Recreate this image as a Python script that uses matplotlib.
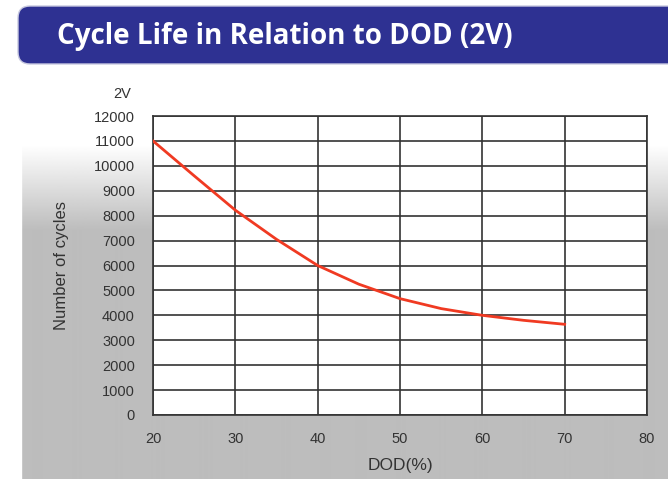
import numpy as np
import matplotlib.pyplot as plt
from matplotlib.patches import FancyBboxPatch, Rectangle

# data
dod = [20, 25, 30, 35, 40, 45, 50, 55, 60, 65, 70]
cycles = [11000, 9600, 8220, 7050, 6000, 5250, 4670, 4270, 4000, 3800, 3640]

x_ticks = [20, 30, 40, 50, 60, 70, 80]
y_ticks = list(range(0, 12001, 1000))

title = "Cycle Life in Relation to DOD (2V)"

W, H = 668, 479
fig = plt.figure(figsize=(W / 100, H / 100), dpi=100)
fig.patch.set_facecolor("white")

# background: banner + grey gradient panel, in pixel coords
bg = fig.add_axes([0, 0, 1, 1], zorder=-1)
bg.set_xlim(0, W)
bg.set_ylim(H, 0)
bg.axis("off")

rows = np.arange(H)
top_c, bot_c = 1.0, 0.74
t = np.clip((rows - 145) / 85.0, 0, 1)
grad = (top_c + (bot_c - top_c) * t)[:, None] * np.ones((1, 2))
bg.imshow(grad, cmap="gray", vmin=0, vmax=1, extent=(21, W, H, 0),
          aspect="auto", interpolation="bilinear")
bg.add_patch(Rectangle((0, 0), 21, H, color="white", zorder=2))
bg.add_patch(Rectangle((0, 0), W, 120, color="white", zorder=2))

banner = FancyBboxPatch((18, 6), W + 40, 58,
                        boxstyle="round,pad=0,rounding_size=12",
                        facecolor="#2e3192", edgecolor="#c8c9e0", lw=1, zorder=3)
bg.add_patch(banner)
bg.text(57, 36, title, color="white", fontsize=20, fontweight="bold",
        family="Open Sans", va="center", ha="left", zorder=4)

# plot
ax = fig.add_axes([153 / W, 1 - 415 / H, (647 - 153) / W, (415 - 116) / H])
ax.set_facecolor("white")
ax.plot(dod, cycles, color="#f03a22", lw=2, zorder=3)

ax.set_xlim(20, 80)
ax.set_ylim(0, 12000)
ax.set_xticks(x_ticks)
ax.set_yticks(y_ticks)
ax.grid(True, color="#333333", lw=1.2)
for s in ax.spines.values():
    s.set_color("#333333")
    s.set_linewidth(1.2)
ax.tick_params(length=0, labelsize=10.5, labelcolor="#333333")
ax.tick_params(axis="x", pad=12)
ax.tick_params(axis="y", pad=13)
for lab in ax.get_xticklabels() + ax.get_yticklabels():
    lab.set_family("Liberation Sans")

ax.set_xlabel("DOD(%)", fontsize=12.5, family="Liberation Sans", color="#333333",
              labelpad=9)
ax.set_ylabel("Number of cycles", fontsize=12, family="Liberation Sans",
              color="#333333", labelpad=18)

bg.text(131, 94, "2V", fontsize=10.5, family="Liberation Sans", color="#333333",
        ha="right", va="center", zorder=4)

fig.savefig("out.png", dpi=100)
